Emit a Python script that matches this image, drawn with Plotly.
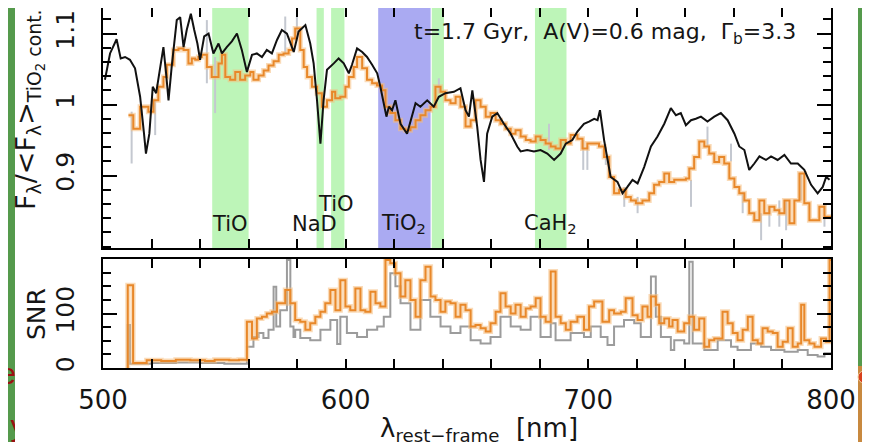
import plotly.graph_objects as go

W, H = 870, 442

# ---------------- data ----------------
model_wl = [500.8, 502.9, 505.6, 507.3, 509.1, 511.1, 513.2, 515.3, 516.9, 517.7,
            519.1, 520.5, 521.9, 523.5, 524.9, 526.0, 527.0, 528.3, 530.4, 531.8,
            533.2, 534.5, 536.2, 537.6, 538.9, 540.0, 541.7, 543.5, 545.5, 547.6,
            549.0, 551.0, 553.1, 555.2, 557.2, 559.3, 561.4, 563.4, 565.5, 567.5,
            569.6, 571.7, 573.7, 575.8, 577.9, 578.6, 580.6, 583.4, 585.4, 586.8,
            588.2, 589.6, 590.9, 592.3, 595.1, 597.1, 599.2, 601.3, 602.6, 604.7,
            606.8, 608.8, 610.9, 613.0, 614.3, 616.8, 617.8, 619.1, 620.5, 622.6,
            625.3, 627.4, 628.8, 630.8, 633.6, 636.3, 638.4, 641.1, 644.6, 647.3,
            649.4, 650.8, 652.2, 654.2, 655.6, 657.0, 658.3, 660.4, 662.5, 665.2,
            668.0, 670.7, 672.1, 674.8, 677.6, 680.3, 683.1, 685.9, 688.6, 690.7,
            693.4, 695.5, 698.2, 700.3, 702.4, 703.8, 704.8, 706.5, 709.2, 712.0,
            714.1, 716.1, 718.2, 720.3, 723.0, 725.8, 728.5, 731.3, 734.0, 736.1,
            738.1, 740.2, 742.3, 744.3, 746.4, 749.1, 751.9, 754.6, 757.4, 760.2,
            762.2, 764.3, 766.3, 768.4, 770.5, 773.2, 775.3, 778.0, 780.8, 783.5,
            786.3, 789.0, 791.8, 794.5, 796.6, 798.0, 799.4]
model_flux = [1.035, 1.072, 1.092, 1.065, 1.067, 1.063, 1.051, 1.011, 0.959, 0.931,
              0.959, 1.025, 1.016, 1.053, 1.081, 1.044, 1.006, 1.053, 1.119, 1.123,
              1.081, 1.105, 1.128, 1.105, 1.086, 1.063, 1.096, 1.100, 1.072, 1.086,
              1.072, 1.081, 1.089, 1.100, 1.077, 1.046, 1.070, 1.072, 1.067, 1.077,
              1.072, 1.091, 1.105, 1.100, 1.081, 1.074, 1.103, 1.112, 1.086, 1.058,
              1.006, 0.945, 1.006, 1.049, 1.058, 1.065, 1.058, 1.044, 1.056, 1.079,
              1.074, 1.067, 1.056, 1.044, 1.025, 0.983, 0.997, 0.992, 1.006, 0.973,
              0.959, 0.983, 1.002, 0.997, 1.006, 0.997, 1.011, 1.016, 1.018, 1.023,
              0.992, 0.983, 1.020, 0.969, 0.922, 0.891, 0.959, 0.983, 0.988, 0.973,
              0.959, 0.941, 0.934, 0.936, 0.934, 0.936, 0.931, 0.922, 0.931, 0.945,
              0.950, 0.962, 0.973, 0.976, 0.980, 0.978, 0.992, 0.950, 0.898, 0.891,
              0.875, 0.884, 0.894, 0.889, 0.912, 0.941, 0.955, 0.973, 0.995, 0.985,
              0.988, 0.971, 0.978, 0.980, 0.983, 0.976, 0.983, 0.988, 0.978, 0.959,
              0.941, 0.936, 0.908, 0.917, 0.927, 0.922, 0.927, 0.922, 0.929, 0.917,
              0.917, 0.908, 0.887, 0.875, 0.884, 0.898, 0.894]

obs_wl = [510.5, 512.5, 515.3, 518.7, 520.8, 522.8, 524.9, 526.3, 529.0, 531.1,
          533.2, 535.2, 536.6, 538.0, 539.3, 540.7, 542.8, 544.8, 547.6, 549.0,
          550.4, 552.4, 554.5, 556.5, 558.6, 560.7, 562.0, 564.1, 566.2, 568.2,
          570.3, 572.4, 574.4, 576.5, 577.9, 579.2, 581.3, 582.7, 584.1, 586.1,
          588.2, 590.2, 592.3, 594.4, 595.7, 597.8, 599.9, 601.3, 603.3, 604.7,
          606.8, 608.8, 610.9, 612.9, 615.0, 616.4, 618.4, 620.5, 622.6, 624.6,
          626.7, 628.8, 630.8, 632.9, 635.0, 637.0, 639.1, 641.1, 643.2, 645.3,
          647.3, 649.4, 651.5, 653.5, 655.6, 657.7, 659.7, 661.8, 663.8, 665.9,
          668.0, 670.0, 672.1, 674.2, 676.2, 678.3, 680.3, 682.4, 684.5, 686.5,
          688.6, 690.7, 692.7, 695.5, 697.6, 699.6, 702.4, 704.4, 706.5, 708.6,
          710.6, 712.7, 715.4, 717.5, 719.6, 722.3, 725.1, 727.1, 729.2, 731.3,
          733.3, 735.4, 737.5, 740.2, 741.6, 743.6, 745.7, 747.8, 749.8, 751.9,
          753.9, 756.0, 758.1, 760.2, 762.2, 764.3, 766.3, 768.4, 770.5, 772.5,
          774.6, 776.7, 778.7, 780.8, 782.9, 784.9, 787.0, 789.0, 791.1, 793.2,
          795.2, 797.3]
obs_flux = [0.985, 0.966, 0.997, 0.990, 1.006, 1.025, 1.039, 1.056, 1.077, 1.079,
            1.077, 1.058, 1.065, 1.063, 1.067, 1.070, 1.053, 1.039, 1.058, 1.070,
            1.039, 1.035, 1.046, 1.035, 1.041, 1.046, 1.035, 1.041, 1.048, 1.055,
            1.061, 1.070, 1.072, 1.077, 1.093, 1.107, 1.077, 1.053, 1.039, 1.025,
            1.016, 0.997, 1.006, 1.018, 1.009, 1.011, 1.025, 1.039, 1.053, 1.067,
            1.051, 1.035, 1.030, 1.027, 1.020, 0.997, 0.988, 0.978, 0.966, 0.964,
            0.968, 0.978, 0.985, 0.992, 0.997, 1.025, 1.018, 1.006, 1.002, 1.011,
            0.997, 0.969, 0.978, 1.006, 0.997, 0.983, 0.988, 0.978, 0.973, 0.966,
            0.959, 0.964, 0.955, 0.950, 0.948, 0.955, 0.950, 0.945, 0.941, 0.938,
            0.950, 0.945, 0.957, 0.952, 0.938, 0.945, 0.945, 0.941, 0.926, 0.898,
            0.875, 0.880, 0.870, 0.865, 0.861, 0.865, 0.875, 0.887, 0.891, 0.903,
            0.891, 0.894, 0.894, 0.896, 0.910, 0.926, 0.948, 0.941, 0.931, 0.919,
            0.926, 0.917, 0.896, 0.884, 0.875, 0.865, 0.847, 0.837, 0.865, 0.847,
            0.856, 0.851, 0.847, 0.865, 0.833, 0.865, 0.903, 0.861, 0.837, 0.837,
            0.856, 0.842]
obs_end = 800.0

spike_wl = [511.8, 521.5, 542.8, 546.2, 575.1, 579.9, 638.4, 683.8, 697.9, 699.6,
            707.2, 714.8, 720.3, 742.3, 749.1, 758.8, 763.6, 771.2, 774.6, 778.7,
            781.5, 787.7, 797.3]
spike_lo = [0.917, 0.957, 1.030, 0.988, 1.072, 1.100, 1.016, 0.936, 0.908, 0.908,
            0.915, 0.856, 0.847, 0.856, 0.941, 0.920, 0.847, 0.809, 0.828, 0.828,
            0.823, 0.865, 0.828]
spike_hi = [0.990, 1.006, 1.119, 1.067, 1.124, 1.124, 1.037, 0.973, 0.950, 0.941,
            0.940, 0.884, 0.870, 0.894, 0.969, 0.945, 0.875, 0.847, 0.856, 0.865,
            0.865, 0.903, 0.861]

snr_wl = [510.2, 512.4, 518.0, 524.0, 530.0, 536.0, 542.0, 546.0, 552.0, 556.0,
          559.3, 561.4, 563.4, 565.5, 567.5, 569.6, 571.7, 573.1, 575.1, 577.2,
          579.2, 581.3, 583.4, 585.4, 587.5, 589.6, 591.6, 593.7, 595.8, 597.8,
          599.9, 601.9, 604.0, 606.1, 608.1, 610.2, 612.3, 614.3, 616.4, 618.4,
          620.5, 622.6, 624.6, 626.7, 628.8, 630.8, 632.9, 635.0, 637.0, 639.1,
          641.1, 643.2, 645.3, 647.3, 649.4, 651.5, 653.5, 655.6, 657.7, 659.7,
          661.8, 663.8, 665.9, 668.0, 670.0, 672.1, 674.2, 676.2, 678.3, 680.3,
          682.4, 684.5, 686.5, 688.6, 690.7, 692.7, 695.5, 698.2, 700.3, 702.4,
          705.8, 708.6, 710.6, 713.4, 715.4, 718.2, 720.3, 722.3, 724.4, 725.8,
          727.8, 729.2, 731.3, 733.3, 734.7, 736.8, 739.5, 741.6, 743.6, 745.7,
          747.8, 749.8, 751.9, 755.3, 757.4, 759.5, 761.5, 763.6, 765.7, 767.7,
          769.8, 771.8, 773.9, 776.0, 778.0, 780.1, 782.2, 784.2, 786.3, 787.7,
          789.0, 791.1, 793.2, 795.9, 798.0, 799.4]
snr_obs = [152, 9, 14, 13, 15, 14, 13, 15, 14, 15,
           85, 54, 91, 94, 100, 103, 119, 119, 143, 119,
           88, 85, 70, 82, 94, 103, 119, 143, 106, 161,
           113, 106, 146, 106, 103, 140, 119, 113, 198, 192,
           174, 131, 161, 125, 94, 161, 186, 131, 125, 103,
           122, 119, 94, 116, 106, 76, 79, 73, 67, 82,
           103, 137, 113, 100, 116, 94, 109, 113, 128, 94,
           85, 177, 94, 82, 70, 85, 94, 70, 113, 122,
           85, 106, 100, 103, 128, 97, 88, 113, 94, 131,
           116, 82, 91, 76, 88, 67, 82, 94, 70, 91,
           39, 51, 54, 103, 82, 64, 51, 70, 94, 51,
           45, 73, 67, 64, 39, 48, 73, 39, 45, 116,
           51, 45, 39, 54, 48, 198]

snr2_wl = [510.2, 511.1, 520.0, 530.0, 540.0, 550.0, 559.3, 562.0, 564.1, 566.1,
           568.2, 570.3, 571.4, 573.0, 575.8, 577.2, 578.5, 579.2, 581.3, 585.4,
           589.6, 593.7, 596.5, 597.8, 600.5, 604.7, 608.8, 613.0, 615.7, 618.4,
           620.5, 622.6, 626.7, 630.8, 634.9, 639.1, 643.2, 647.3, 651.5, 655.6,
           659.7, 663.8, 668.0, 672.1, 676.2, 680.3, 684.5, 686.5, 692.7, 698.2,
           701.0, 705.1, 707.9, 710.6, 714.7, 718.9, 721.6, 725.8, 727.8, 729.9,
           734.0, 735.4, 739.5, 741.6, 743.0, 747.8, 753.3, 758.8, 761.5, 767.0,
           771.2, 775.3, 780.8, 786.3, 790.4, 794.5, 797.3]
snr2 = [79, 8, 9, 10, 9, 8, 39, 57, 64, 55,
        70, 149, 76, 106, 198, 76, 57, 70, 55, 51,
        70, 88, 44, 94, 64, 57, 70, 76, 94, 174,
        150, 119, 70, 125, 94, 76, 64, 76, 51, 45,
        57, 94, 76, 70, 94, 57, 82, 51, 64, 57,
        76, 57, 42, 76, 88, 82, 57, 168, 94, 57,
        33, 51, 45, 195, 45, 33, 51, 39, 33, 45,
        39, 33, 30, 33, 24, 21, 27]

band_lo = [545.0, 588.0, 594.0, 613.4, 635.5, 678.0]
band_hi = [560.0, 591.0, 599.5, 635.0, 640.5, 691.0]
band_kind = ["g", "g", "g", "b", "g", "g"]

label_text = ["TiO", "NaD", "TiO", "TiO<sub>2</sub>", "CaH<sub>2</sub>"]
label_x = [552.4, 587.1, 596.2, 624.0, 684.5]
label_y = [0.832, 0.832, 0.860, 0.832, 0.832]

x_ticks = [500, 600, 700, 800]
top_y_ticks = [0.9, 1.0, 1.1]
top_y_text = ["0.9", "1", "1.1"]
snr_ticks = [0, 100]

# ---------------- geometry (window pixels; page body has an 8px margin) ----------------
OFF = 8

def fx(x):
    return (x - OFF) / W

def fy(y):
    return 1 - (y - OFF) / H

XL, XR = 103, 831
TOP_B = 248
BOT_T, BOT_B = 259, 368

FONT = "DejaVu Sans, Verdana, sans-serif"
ORANGE = "#e8882a"
HALO = "rgba(246,190,125,0.55)"

fig = go.Figure()

# observed unbinned spikes (light grey)
sx, sy = [], []
for w, lo, hi in zip(spike_wl, spike_lo, spike_hi):
    sx += [w, w, None]
    sy += [lo, hi, None]
fig.add_trace(go.Scatter(x=sx, y=sy, mode="lines", line=dict(color="#c4c8d0", width=2),
                         xaxis="x", yaxis="y", hoverinfo="skip"))

# observed binned (orange step)
ox = obs_wl + [obs_end]
oy = obs_flux + [obs_flux[-1]]
fig.add_trace(go.Scatter(x=ox, y=oy, mode="lines", line=dict(color=HALO, width=5, shape="hv"),
                         xaxis="x", yaxis="y", hoverinfo="skip"))
fig.add_trace(go.Scatter(x=ox, y=oy, mode="lines", line=dict(color=ORANGE, width=2, shape="hv"),
                         xaxis="x", yaxis="y"))
# model
fig.add_trace(go.Scatter(x=model_wl, y=model_flux, mode="lines",
                         line=dict(color="#111111", width=2), xaxis="x", yaxis="y"))

# SNR grey
gx = [snr2_wl[0]] + snr2_wl + [obs_end]
gy = [0] + snr2 + [snr2[-1]]
fig.add_trace(go.Scatter(x=gx, y=gy, mode="lines", line=dict(color="#9c9c9c", width=2, shape="hv"),
                         xaxis="x2", yaxis="y2"))
# SNR orange
nx = [snr_wl[0]] + snr_wl + [obs_end]
ny = [0] + snr_obs + [snr_obs[-1]]
fig.add_trace(go.Scatter(x=nx, y=ny, mode="lines", line=dict(color=HALO, width=5, shape="hv"),
                         xaxis="x2", yaxis="y2", hoverinfo="skip"))
fig.add_trace(go.Scatter(x=nx, y=ny, mode="lines", line=dict(color=ORANGE, width=2, shape="hv"),
                         xaxis="x2", yaxis="y2"))

# background text fragments in the left strip (clipped to the strip)
fig.add_trace(go.Scatter(x=[16, 18], y=[376, 428], mode="text", text=["ea", "y"],
                         textfont=dict(family="Liberation Sans, Arial", size=30, color="#9b1010"),
                         textposition="middle center", cliponaxis=True,
                         xaxis="x3", yaxis="y3", hoverinfo="skip"))

# ---------------- shapes ----------------
shapes = [
    dict(type="rect", xref="paper", yref="paper", x0=fx(15), x1=fx(858), y0=0, y1=1,
         fillcolor="white", line_width=0, layer="below"),
    dict(type="rect", xref="paper", yref="paper", x0=fx(858), x1=1, y0=0, y1=fy(366),
         fillcolor="#c8893f", line_width=0, layer="below"),
    dict(type="circle", xref="paper", yref="paper", x0=fx(858), x1=fx(870), y0=fy(383), y1=fy(371),
         fillcolor="#d8401c", line=dict(color="#f2d0a0", width=1), layer="below"),
    dict(type="circle", xref="paper", yref="paper", x0=fx(863), x1=fx(875), y0=fy(412), y1=fy(400),
         fillcolor="#d8401c", line=dict(color="#f2d0a0", width=1), layer="below"),
]
for lo, hi, k in zip(band_lo, band_hi, band_kind):
    shapes.append(dict(type="rect", xref="x", yref="y domain", x0=lo, x1=hi, y0=0, y1=1,
                       fillcolor="#bdf5b8" if k == "g" else "#aaaaf2", line_width=0, layer="below"))

# ---------------- annotations ----------------
TXT = "#151515"
ann = []
for t, x, y in zip(label_text, label_x, label_y):
    ann.append(dict(text=t, x=x, y=y, xref="x", yref="y", showarrow=False,
                    xanchor="center", yanchor="middle",
                    font=dict(family=FONT, size=21, color=TXT)))
ann.append(dict(text="t=1.7 Gyr,  A(V)=0.6 mag,  Γ<sub>b</sub>=3.3", x=786.4, y=1.1,
                xref="x", yref="y", xanchor="right", yanchor="middle", showarrow=False,
                font=dict(family=FONT, size=22, color=TXT)))
ann.append(dict(text="F<sub>λ</sub>/&lt;F<sub>λ</sub>&gt;<sub>TiO<sub>2</sub> cont.</sub>",
                x=fx(29), y=fy(110), xref="paper", yref="paper", textangle=-90,
                xanchor="center", yanchor="middle",
                showarrow=False, font=dict(family=FONT, size=27, color=TXT)))
ann.append(dict(text="SNR", x=fx(36), y=fy(314), xref="paper", yref="paper", textangle=-90,
                xanchor="center", yanchor="middle",
                showarrow=False, font=dict(family=FONT, size=25, color=TXT)))
ann.append(dict(text="λ<sub>rest−frame</sub>  [nm]", x=fx(479), y=fy(429), xref="paper",
                yref="paper", xanchor="center", yanchor="middle", showarrow=False,
                font=dict(family=FONT, size=26, color=TXT)))

common_x = dict(range=[500, 800], showline=True, linecolor="black", linewidth=2, mirror="ticks",
                ticks="inside", ticklen=9, tickwidth=2, tickcolor="black",
                tickvals=x_ticks, ticktext=[str(v) for v in x_ticks],
                minor=dict(dtick=20, tick0=500, ticks="inside", ticklen=9, tickwidth=2, tickcolor="black"),
                showgrid=False, zeroline=False, automargin=False,
                tickfont=dict(family=FONT, size=26, color=TXT))

fig.update_layout(
    width=W, height=H, margin=dict(l=0, r=0, t=0, b=0, pad=0),
    paper_bgcolor="#559a4c", plot_bgcolor="rgba(0,0,0,0)", showlegend=False,
    xaxis=dict(common_x, domain=[fx(XL), fx(XR)], anchor="y", showticklabels=False),
    yaxis=dict(domain=[fy(TOP_B), 1], range=[0.798, 1.136], anchor="x",
               showline=True, linecolor="black", linewidth=2, mirror="ticks",
               ticks="inside", ticklen=14, tickwidth=2, tickcolor="black",
               tickvals=top_y_ticks, ticktext=top_y_text, tickangle=-90,
               minor=dict(dtick=0.02, tick0=0.8, ticks="inside", ticklen=8, tickwidth=2, tickcolor="black"),
               showgrid=False, zeroline=False, ticklabelstandoff=17, automargin=False,
               tickfont=dict(family=FONT, size=25, color=TXT)),
    xaxis2=dict(common_x, domain=[fx(XL), fx(XR)], anchor="y2", ticklabelstandoff=8),
    yaxis2=dict(domain=[fy(BOT_B), fy(BOT_T)], range=[0, 200], anchor="x2",
                showline=True, linecolor="black", linewidth=2, mirror="ticks",
                ticks="inside", ticklen=14, tickwidth=2, tickcolor="black",
                tickvals=snr_ticks, ticktext=[str(v) for v in snr_ticks], tickangle=-90,
                minor=dict(dtick=25, tick0=0, ticks="inside", ticklen=8, tickwidth=2, tickcolor="black"),
                showgrid=False, zeroline=False, ticklabelstandoff=17, automargin=False,
                tickfont=dict(family=FONT, size=25, color=TXT)),
    xaxis3=dict(domain=[0, fx(15)], range=[OFF, 15], visible=False, anchor="y3", automargin=False),
    yaxis3=dict(domain=[0, 1], range=[H + OFF, OFF], visible=False, anchor="x3", automargin=False),
    shapes=shapes, annotations=ann,
)

fig.write_html("out.html")
